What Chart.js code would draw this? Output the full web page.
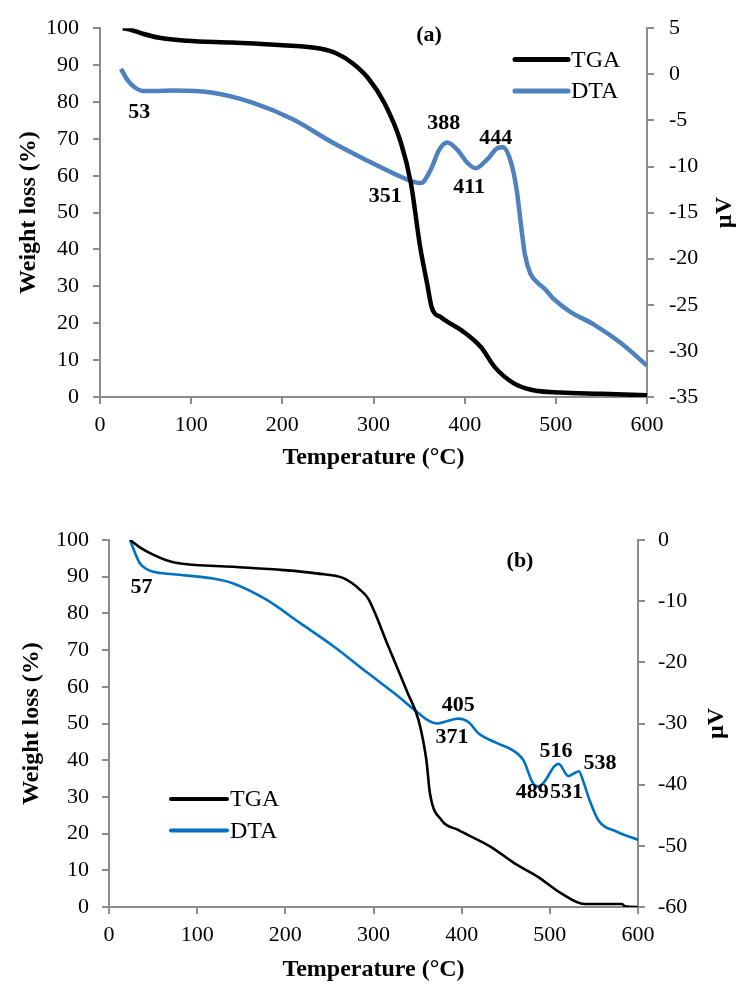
<!DOCTYPE html>
<html lang="en">
<head>
<meta charset="UTF-8">
<title>TGA / DTA</title>
<script src="https://cdn.jsdelivr.net/npm/chart.js@4.4.1/dist/chart.umd.min.js"></script>
<style>
  body { margin: 0; background: #fff; overflow: hidden; }
  #wrap { position: relative; width: 736px; height: 985px; }
  .box { position: absolute; left: 0; width: 736px; }
  #boxA { top: 0; height: 480px; }
  #boxB { top: 505px; height: 480px; }
</style>
</head>
<body>
<div id="wrap">
  <div class="box" id="boxA"><canvas id="chartA" width="736" height="480"></canvas></div>
  <div class="box" id="boxB"><canvas id="chartB" width="736" height="480"></canvas></div>
</div>
<script>
// ---- panel (a) ----
const tempA_tga = [25, 32, 47, 65, 95, 145, 200, 241, 259, 277, 294, 312, 330, 341, 351, 359, 364, 374, 397, 418, 433, 454, 474, 505, 550, 600];
const tgaA      = [100, 99.7, 98.5, 97.4, 96.6, 96.1, 95.4, 94.5, 93.2, 90.5, 86.5, 79.7, 69, 58, 41, 30.5, 24.2, 21.6, 18, 13.5, 8.1, 3.7, 1.9, 1.2, 0.9, 0.5];
const tempA_dta = [23, 30, 38, 47, 60, 80, 124, 168, 212, 255, 294, 323, 345, 352, 363, 372, 381, 392, 403, 412, 425, 436, 442, 451, 457, 462, 466, 472, 480, 487, 497, 515, 541, 572, 600];
const dtaA      = [0.6, -0.6, -1.4, -1.8, -1.8, -1.75, -2.0, -3.1, -4.9, -7.4, -9.4, -10.8, -11.7, -11.8, -10.3, -8.2, -7.4, -8.2, -9.6, -10.2, -9.2, -8.0, -7.9, -9.6, -12.5, -16.5, -19.5, -21.6, -22.6, -23.2, -24.3, -25.7, -27.1, -29.2, -31.6];
const peaksA     = ['53', '351', '388', '411', '444'];
const peakTempA  = [43, 313, 377, 405, 434];
const peakLevelA = [-4.1, -13.2, -5.3, -12.3, -6.9];

// ---- panel (b) ----
const tempB_tga = [24, 35, 50, 65, 81, 141, 198, 235, 266, 285, 294, 317, 339, 351, 360, 364, 377, 396, 433, 460, 486, 513, 539, 582, 585, 600];
const tgaB      = [100, 98, 96, 94.5, 93.6, 92.7, 91.8, 90.9, 89.6, 86.4, 84, 70.9, 58.2, 51, 40, 31, 23.7, 21, 16.4, 11.9, 8.3, 3.7, 0.8, 0.8, 0.2, 0];
const tempB_dta = [24, 30, 35, 42, 50, 73, 118, 141, 179, 217, 255, 294, 324, 351, 362, 372, 384, 396, 408, 419, 440, 457, 470, 481, 487, 494, 505, 510, 521, 527, 533, 538, 545, 555, 576, 600];
const dtaB      = [0, -2.3, -3.8, -4.7, -5.2, -5.6, -6.3, -7.1, -9.8, -13.6, -17.4, -21.8, -25.1, -28.3, -29.5, -30.0, -29.6, -29.2, -29.8, -31.6, -33.2, -34.3, -36, -39.8, -40.3, -39.5, -37, -36.6, -38.6, -38.2, -37.8, -39.5, -42.5, -45.8, -47.7, -49];
const peaksB     = ['57', '405', '371', '489', '516', '531', '538'];
const peakTempB  = [37, 396, 389, 480, 507, 519, 557];
const peakLevelB = [-7.8, -27.0, -32.2, -41.3, -34.5, -41.3, -36.5];

const serif = '"Liberation Serif", "Times New Roman", serif';
const axisGray = '#8c8c8c';

function zip(xs, ys) {
  return xs.map((x, i) => ({x: x, y: ys[i]}));
}

// peak numbers, panel tag, legend and the µV title
const overlay = {
  id: 'overlay',
  afterDraw(chart, args, o) {
    const ctx = chart.ctx;
    const xs = chart.scales.x, yr = chart.scales.y2;
    ctx.save();
    ctx.fillStyle = '#000';
    ctx.textAlign = 'center';
    ctx.textBaseline = 'middle';
    ctx.font = 'bold 22px ' + serif;
    o.peaks.forEach((t, i) => {
      ctx.fillText(t, xs.getPixelForValue(o.peakT[i]), yr.getPixelForValue(o.peakV[i]));
    });
    ctx.fillText(o.tag, o.tagX, o.tagY);

    ctx.font = '24px ' + serif;
    ctx.textAlign = 'left';
    chart.data.datasets.forEach((ds, i) => {
      const y = o.legY + i * o.legGap;
      ctx.strokeStyle = ds.borderColor;
      ctx.lineWidth = o.legLW;
      ctx.lineCap = 'round';
      ctx.beginPath();
      ctx.moveTo(o.legX, y);
      ctx.lineTo(o.legX + o.legLen, y);
      ctx.stroke();
      ctx.fillText(ds.label, o.legX + o.legLen + 3, y + 1);
    });

    const ca = chart.chartArea;
    ctx.translate(o.unitX, (ca.top + ca.bottom) / 2);
    ctx.rotate(-Math.PI / 2);
    ctx.textAlign = 'center';
    ctx.font = 'bold 24px ' + serif;
    ctx.fillText('µV', 0, 0);
    ctx.restore();
  }
};

function axisCommon() {
  return {
    grid: {drawOnChartArea: false, drawTicks: true, tickLength: 7, color: axisGray, lineWidth: 2},
    border: {color: axisGray, width: 2}
  };
}

function makeChart(id, c) {
  return new Chart(document.getElementById(id), {
    type: 'line',
    data: {
      datasets: [
        {label: 'TGA', data: zip(c.tgaT, c.tga), yAxisID: 'y', borderColor: '#000000',
         borderWidth: c.lw, pointRadius: 0, cubicInterpolationMode: 'monotone', fill: false},
        {label: 'DTA', data: zip(c.dtaT, c.dta), yAxisID: 'y2', borderColor: c.blue,
         borderWidth: c.lw, pointRadius: 0, cubicInterpolationMode: 'monotone', fill: false}
      ]
    },
    options: {
      responsive: false,
      animation: false,
      layout: {padding: {top: c.padTop, left: 0, right: 0, bottom: 0}},
      plugins: {legend: {display: false}, tooltip: {enabled: false}, overlay: c.overlay},
      scales: {
        x: Object.assign(axisCommon(), {
          type: 'linear', position: 'bottom', min: 0, max: 600,
          ticks: {stepSize: 100, color: '#000', font: {family: serif, size: 22}, padding: 8},
          title: {display: true, text: 'Temperature (°C)', color: '#000',
                  font: {family: serif, size: 24, weight: 'bold'}, padding: {top: 0, bottom: c.xTitlePad}},
          afterFit: s => { s.height = c.xH; }
        }),
        y: Object.assign(axisCommon(), {
          position: 'left', min: 0, max: 100,
          ticks: {stepSize: 10, color: '#000', font: {family: serif, size: 22}, padding: c.lPad},
          title: {display: true, text: 'Weight loss (%)', color: '#000',
                  font: {family: serif, size: 24, weight: 'bold'}, padding: {top: c.yTitlePad, bottom: 0}},
          afterFit: s => { s.width = c.leftW; }
        }),
        y2: Object.assign(axisCommon(), {
          position: 'right', min: c.rMin, max: c.rMax,
          ticks: {stepSize: c.rStep, color: '#000', font: {family: serif, size: 22}, padding: c.rPad},
          afterFit: s => { s.width = c.rightW; }
        })
      }
    },
    plugins: [overlay]
  });
}

makeChart('chartA', {
  tgaT: tempA_tga, tga: tgaA, dtaT: tempA_dta, dta: dtaA,
  blue: '#4F81BD', lw: 4.5, padTop: 24, xH: 83, xTitlePad: 8, leftW: 100, rightW: 89,
  lPad: 14, rPad: 15, yTitlePad: 14, rMin: -35, rMax: 5, rStep: 5,
  overlay: {peaks: peaksA, peakT: peakTempA, peakV: peakLevelA, tag: '(a)', tagX: 429, tagY: 35,
            legX: 515, legLen: 53, legY: 59.5, legGap: 31.5, legLW: 5, unitX: 725}
});

makeChart('chartB', {
  tgaT: tempB_tga, tga: tgaB, dtaT: tempB_dta, dta: dtaB,
  blue: '#0070C0', lw: 2.6, padTop: 35, xH: 78, xTitlePad: 1, leftW: 109, rightW: 98,
  lPad: 13, rPad: 13, yTitlePad: 17, rMin: -60, rMax: 0, rStep: 10,
  overlay: {peaks: peaksB, peakT: peakTempB, peakV: peakLevelB, tag: '(b)', tagX: 520, tagY: 56,
            legX: 171, legLen: 56, legY: 294, legGap: 31.5, legLW: 4, unitX: 717}
});
</script>
</body>
</html>
